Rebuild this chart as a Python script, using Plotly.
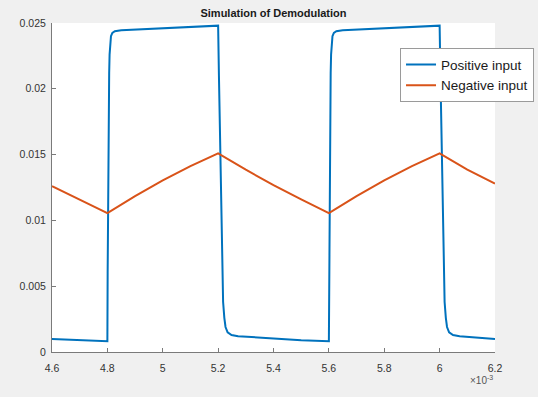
import plotly.graph_objects as go

# time in units of 1e-3 s
t_pos = [4.6, 4.7, 4.8, 4.801, 4.802, 4.8035, 4.805, 4.8065, 4.808, 4.810, 4.813, 4.818, 4.827, 4.85, 5.0, 5.2,
         5.2029, 5.2061, 5.209, 5.2116, 5.2144, 5.218, 5.2224, 5.2267, 5.2343, 5.2484, 5.2722, 5.3336, 5.4, 5.5, 5.6,
         5.601, 5.602, 5.6035, 5.605, 5.6065, 5.608, 5.610, 5.613, 5.618, 5.627, 5.65, 5.8, 6.0,
         6.0029, 6.0061, 6.009, 6.0116, 6.0144, 6.018, 6.0224, 6.0267, 6.0343, 6.0484, 6.0722, 6.1336, 6.2]
y_pos = [0.00098, 0.00089, 0.00082, 0.006, 0.011, 0.016, 0.0192, 0.0212, 0.0226, 0.0235, 0.0240, 0.02425, 0.02438, 0.02445, 0.02458, 0.0248,
         0.021, 0.0168, 0.0125, 0.0092, 0.0059, 0.0038, 0.0026, 0.0019, 0.0015, 0.00129, 0.0012, 0.00112, 0.00100, 0.00090, 0.00082,
         0.006, 0.011, 0.016, 0.0192, 0.0212, 0.0226, 0.0235, 0.0240, 0.02425, 0.02438, 0.02445, 0.02458, 0.0248,
         0.021, 0.0168, 0.0125, 0.0092, 0.0059, 0.0038, 0.0026, 0.0019, 0.0015, 0.00129, 0.0012, 0.00112, 0.00099]

t_neg = [4.6, 4.7, 4.8, 4.9, 5.0, 5.1, 5.2, 5.3, 5.4, 5.5, 5.6, 5.7, 5.8, 5.9, 6.0, 6.1, 6.2]
y_neg = [0.0126, 0.01155, 0.01055, 0.01185, 0.01305, 0.01412, 0.0151, 0.01385, 0.01268, 0.01159, 0.01055,
         0.01185, 0.01305, 0.01412, 0.0151, 0.01385, 0.0128]

x_ticks = [4.6, 4.8, 5.0, 5.2, 5.4, 5.6, 5.8, 6.0, 6.2]
x_labels = ["4.6", "4.8", "5", "5.2", "5.4", "5.6", "5.8", "6", "6.2"]
y_ticks = [0, 0.005, 0.01, 0.015, 0.02, 0.025]
y_labels = ["0", "0.005", "0.01", "0.015", "0.02", "0.025"]

FONT = "Helvetica, Arial, 'Liberation Sans', sans-serif"

fig = go.Figure()
fig.add_trace(go.Scatter(x=t_pos, y=y_pos, mode="lines", name="Positive input",
                         line=dict(color="#0072BD", width=2)))
fig.add_trace(go.Scatter(x=t_neg, y=y_neg, mode="lines", name="Negative input",
                         line=dict(color="#D95319", width=2)))

axis_common = dict(showgrid=False, zeroline=False, showline=True, linecolor="#7a7a7a", linewidth=1,
                   ticks="inside", ticklen=4, tickwidth=1, tickcolor="#7a7a7a",
                   tickfont=dict(family=FONT, size=10.5, color="#333333"), mirror=False)

fig.update_layout(
    width=538, height=397,
    margin=dict(l=52, r=43, t=23, b=45, autoexpand=False),
    paper_bgcolor="#f0f0f0", plot_bgcolor="white",
    font=dict(family=FONT),
    title=dict(text="<b>Simulation of Demodulation</b>", x=0.5, xref="paper", xanchor="center",
               y=1 - 13 / 397, yref="container", yanchor="middle",
               font=dict(family=FONT, size=11, color="#1a1a1a")),
    xaxis=dict(range=[4.6, 6.2], tickvals=x_ticks, ticktext=x_labels, ticklabelstandoff=6, **axis_common),
    yaxis=dict(range=[0, 0.025], tickvals=y_ticks, ticktext=y_labels, ticklabelstandoff=3, **axis_common),
    legend=dict(x=0.7856, y=0.923, xanchor="left", yanchor="top", bgcolor="white",
                bordercolor="#9a9a9a", borderwidth=1,
                font=dict(family=FONT, size=13.5, color="#1a1a1a"), tracegroupgap=0),
    showlegend=True,
    annotations=[dict(text="×10<sup>-3</sup>", x=1, xref="paper", xanchor="right",
                      y=-0.085, yref="paper", yanchor="middle", showarrow=False,
                      font=dict(family=FONT, size=10, color="#555555"))],
)

fig.write_html("out.html")
